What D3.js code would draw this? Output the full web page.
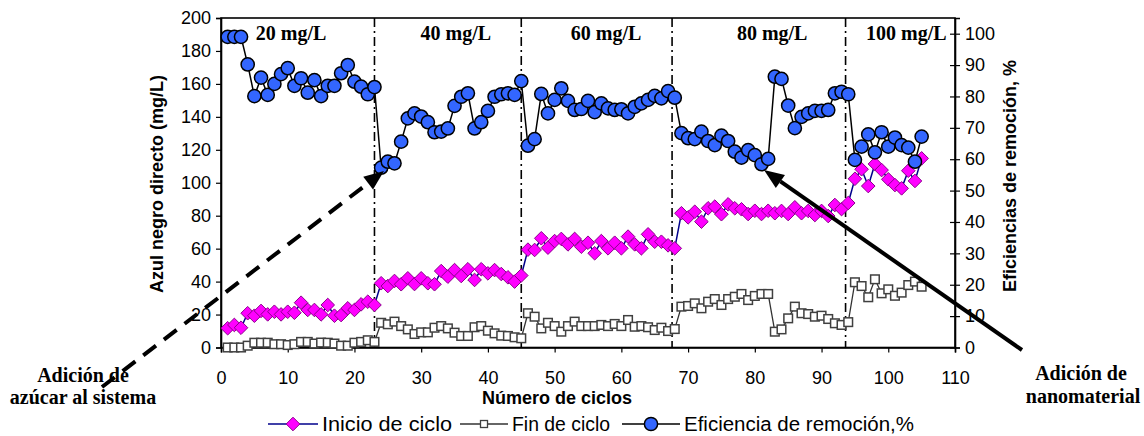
<!DOCTYPE html>
<html><head><meta charset="utf-8">
<script src="https://cdn.jsdelivr.net/npm/d3@7"></script>
<style>body{margin:0;background:#fff} svg{display:block}</style>
</head><body><svg id="c" width="1144" height="436"></svg>
<script>
// ---------------- DATA ----------------
const cycles = d3.range(1, 106);
const inicio = [11.7,13.7,12,20.8,19.3,22.2,20.1,21.7,20.1,21.7,21.1,27.2,22.8,22.8,20.1,25.8,19.3,19.7,23.8,22.8,26.2,27.8,25.8,
  39,37.3,40.4,38.4,42,38.5,42,39,38.4,46.4,43,47,43.4,47.5,41,47.5,45,47,44.6,42.6,40,43.7,
  59.4,59.2,66.3,60.6,64.6,65.9,62.6,65.9,61.2,63.6,57.2,64.6,60.2,63.6,60.2,67.3,62.6,60.2,68.7,64.2,64.2,62,60.2,
  81.5,79,82.4,76.4,84.5,85.5,80.9,86.9,84.5,83.9,81,83,81,83,81.5,82.9,81,85.1,81.5,82.9,80.4,82.9,79.8,86.5,84,87.7,
  102.4,108.2,98,111.4,107.7,102.1,98.6,96.6,107.3,101.1,114.8];
const fin = [0,0,0,1.1,2.9,2.9,2.9,2,2,1.5,2,3.4,3.4,2.4,3,2.9,2.4,1.1,1.1,2.9,3.4,4.4,3.4,
  15,14.1,15.7,13,11,8.2,9.2,9.2,12,13,11.6,9,7,7,12.3,13,10.2,8.6,7.2,7,6.2,5.6,
  20.8,18.7,11.6,15,13,9.6,13,15.7,13,13,13,13.7,13,14.3,13,16.7,12.6,13,12.3,10.6,12,10,11.2,
  24.8,25.2,26.8,23.8,27.8,29.4,25.8,29.4,30.8,32.5,28.8,31.3,32.5,32.5,9.6,11,17.7,24.8,20.8,20.3,18.7,19.3,17.3,14.7,13.7,15.4,
  39.6,37.3,30.5,41.4,32.9,35.3,31.4,33.3,37.9,40,36.9];
const eficiencia = [99,99,99,90.2,80.1,86,80.5,84,87.1,89,83.4,85.8,81.2,85.2,80.1,83.4,83.4,87.4,90,84.7,83.1,80.7,83,
  57.3,59.2,58.7,65.6,73,74.6,73.6,71.8,68.6,68.8,69.8,77,79.9,81,69.8,71.8,75.4,79.9,80.7,81,80.5,84.9,
  64.3,66.4,80.8,74.6,78.9,82.6,78.6,75.7,76,78.6,75,77.8,76.2,75.7,75.9,74.6,76.7,77.8,78.9,80.2,79.4,81.7,79.6,
  68.3,66.7,66.4,68.8,65.8,64.5,67.5,65.8,62.4,60.5,62.9,61.3,58.4,60.1,86.3,85.6,77.1,69.9,73.5,74.6,75.4,75.4,75.7,81,81.5,80.7,
  59.8,64,67.9,62.2,68.6,64,66.9,64.5,63.7,59.2,67.2];
const xTicks = d3.range(0, 111, 10);
const yLeftTicks = d3.range(0, 201, 20);
const yRightTicks = d3.range(0, 101, 10);
const phaseBreaks = [23, 45, 67.6, 93.6];
const phaseLabels = ["20 mg/L", "40 mg/L", "60 mg/L", "80 mg/L", "100 mg/L"];
const seriesNames = ["Inicio de ciclo", "Fin de ciclo", "Eficiencia de remoción,%"];

// ---------------- LAYOUT ----------------
const X0 = 221, X1 = 955, Y0 = 18, Y1 = 347.5;
const phaseLabelAt = [10.5, 35.2, 57.7, 82.6, 102.7];
const SANS = "'Liberation Sans', Arial, sans-serif";
const SERIF = "'Liberation Serif', 'Times New Roman', serif";

const svg = d3.select("#c");
const x = d3.scaleLinear().domain([0, 110]).range([X0, X1]);
const yL = d3.scaleLinear().domain([0, 200]).range([Y1, Y0]);
const yR = d3.scaleLinear().domain([0, 105]).range([Y1, Y0]);

// frame
svg.append("rect").attr("x", X0).attr("y", Y0).attr("width", X1 - X0).attr("height", Y1 - Y0)
  .attr("fill", "none").attr("stroke", "#000").attr("stroke-width", 1.6);

// axes
const gx = svg.append("g").attr("transform", `translate(0,${Y1})`)
  .call(d3.axisBottom(x).tickValues(xTicks).tickSize(5).tickPadding(19).tickFormat(d3.format("d")));
const gl = svg.append("g").attr("transform", `translate(${X0},0)`)
  .call(d3.axisLeft(yL).tickValues(yLeftTicks).tickSize(5).tickPadding(5).tickFormat(d3.format("d")));
const gr = svg.append("g").attr("transform", `translate(${X1},0)`)
  .call(d3.axisRight(yR).tickValues(yRightTicks).tickSize(5).tickPadding(5).tickFormat(d3.format("d")));
gr.selectAll(".tick line").attr("x1", -5);
[gx, gl, gr].forEach(g => {
  g.select(".domain").attr("stroke", "#000").attr("stroke-width", 1.6);
  g.selectAll(".tick line").attr("stroke", "#000").attr("stroke-width", 1.2);
  g.selectAll(".tick text").attr("font-family", SANS).attr("font-size", 18).attr("fill", "#000");
});

// phase separators
svg.append("g").selectAll("line").data(phaseBreaks).join("line")
  .attr("x1", d => x(d)).attr("x2", d => x(d)).attr("y1", Y0).attr("y2", Y1)
  .attr("stroke", "#000").attr("stroke-width", 1.6).attr("stroke-dasharray", "9,4,2,4");

svg.append("g").selectAll("text").data(phaseLabels).join("text")
  .attr("x", (d, i) => x(phaseLabelAt[i])).attr("y", 40).attr("text-anchor", "middle")
  .attr("font-family", SERIF).attr("font-weight", "bold").attr("font-size", 20).text(d => d);

// series
const diamond = r => `M0,${-r}L${r},0L0,${r}L${-r},0Z`;
const lineL = vals => d3.line().x((d, i) => x(cycles[i])).y(d => yL(d))(vals);
const lineR = vals => d3.line().x((d, i) => x(cycles[i])).y(d => yR(d))(vals);

svg.append("path").attr("d", lineL(inicio)).attr("fill", "none").attr("stroke", "#00008B").attr("stroke-width", 1.5);
svg.append("g").selectAll("path").data(inicio).join("path")
  .attr("transform", (d, i) => `translate(${x(cycles[i])},${yL(d)})`).attr("d", diamond(6.8))
  .attr("fill", "#FF00FF").attr("stroke", "#8B008B").attr("stroke-width", 1);

svg.append("path").attr("d", lineL(fin)).attr("fill", "none").attr("stroke", "#333").attr("stroke-width", 1.3);
svg.append("g").selectAll("rect").data(fin).join("rect")
  .attr("x", (d, i) => x(cycles[i]) - 4.3).attr("y", d => yL(d) - 4.3).attr("width", 8.6).attr("height", 8.6)
  .attr("fill", "#fff").attr("stroke", "#404040").attr("stroke-width", 1.5);

svg.append("path").attr("d", lineR(eficiencia)).attr("fill", "none").attr("stroke", "#000").attr("stroke-width", 1.5);
svg.append("g").selectAll("circle").data(eficiencia).join("circle")
  .attr("cx", (d, i) => x(cycles[i])).attr("cy", d => yR(d)).attr("r", 6.6)
  .attr("fill", "#3366FF").attr("stroke", "#000").attr("stroke-width", 1.5);

// axis titles
svg.append("text").attr("transform", `translate(163,184) rotate(-90)`).attr("text-anchor", "middle")
  .attr("font-family", SANS).attr("font-weight", "bold").attr("font-size", 18).text("Azul negro directo (mg/L)");
svg.append("text").attr("transform", `translate(1016,176) rotate(-90)`).attr("text-anchor", "middle")
  .attr("font-family", SANS).attr("font-weight", "bold").attr("font-size", 18).text("Eficiencias de remoción, %");
svg.append("text").attr("x", 557).attr("y", 404).attr("text-anchor", "middle")
  .attr("font-family", SANS).attr("font-weight", "bold").attr("font-size", 18).text("Número de ciclos");

// annotations
function arrow(x1, y1, x2, y2, dash) {
  const a = Math.atan2(y2 - y1, x2 - x1), L = 20, W = 8;
  const bx = x2 - L * Math.cos(a), by = y2 - L * Math.sin(a);
  svg.append("line").attr("x1", x1).attr("y1", y1).attr("x2", bx).attr("y2", by)
    .attr("stroke", "#000").attr("stroke-width", 4).attr("stroke-dasharray", dash || null);
  const px = -Math.sin(a) * W, py = Math.cos(a) * W;
  svg.append("path").attr("d", `M${x2},${y2}L${bx + px},${by + py}L${bx - px},${by - py}Z`).attr("fill", "#000");
}
arrow(102, 387, 384, 171, "16,10");
arrow(1022, 350, 764, 170, null);

const noteStyle = t => t.attr("text-anchor", "middle").attr("font-family", SERIF).attr("font-weight", "bold").attr("font-size", 20);
noteStyle(svg.append("text").attr("x", 83).attr("y", 382).text("Adición de"));
noteStyle(svg.append("text").attr("x", 83).attr("y", 404).text("azúcar al sistema"));
noteStyle(svg.append("text").attr("x", 1081).attr("y", 380).text("Adición de"));
noteStyle(svg.append("text").attr("x", 1083).attr("y", 403).text("nanomaterial"));

// legend
const LY = 424;
const lg = svg.append("g");
const legendX = [268, 460, 622];
const legendLen = [50, 48, 58];
const legendTextLen = [130, 98, 230];
seriesNames.forEach((name, i) => {
  const lx = legendX[i], cx = lx + legendLen[i] / 2;
  lg.append("line").attr("x1", lx).attr("x2", lx + legendLen[i]).attr("y1", LY).attr("y2", LY)
    .attr("stroke", ["#00008B", "#333", "#000"][i]).attr("stroke-width", 1.5);
  if (i === 0) lg.append("path").attr("transform", `translate(${cx},${LY})`).attr("d", diamond(6.8))
    .attr("fill", "#FF00FF").attr("stroke", "#8B008B");
  if (i === 1) lg.append("rect").attr("x", cx - 3.5).attr("y", LY - 3.5).attr("width", 7).attr("height", 7)
    .attr("fill", "#fff").attr("stroke", "#404040").attr("stroke-width", 1.3);
  if (i === 2) lg.append("circle").attr("cx", cx).attr("cy", LY).attr("r", 6.6)
    .attr("fill", "#3366FF").attr("stroke", "#000").attr("stroke-width", 1.5);
  lg.append("text").attr("x", lx + legendLen[i] + 4).attr("y", LY + 7)
    .attr("font-family", SANS).attr("font-size", 20)
    .attr("textLength", legendTextLen[i]).attr("lengthAdjust", "spacingAndGlyphs").text(name);
});
</script></body></html>
